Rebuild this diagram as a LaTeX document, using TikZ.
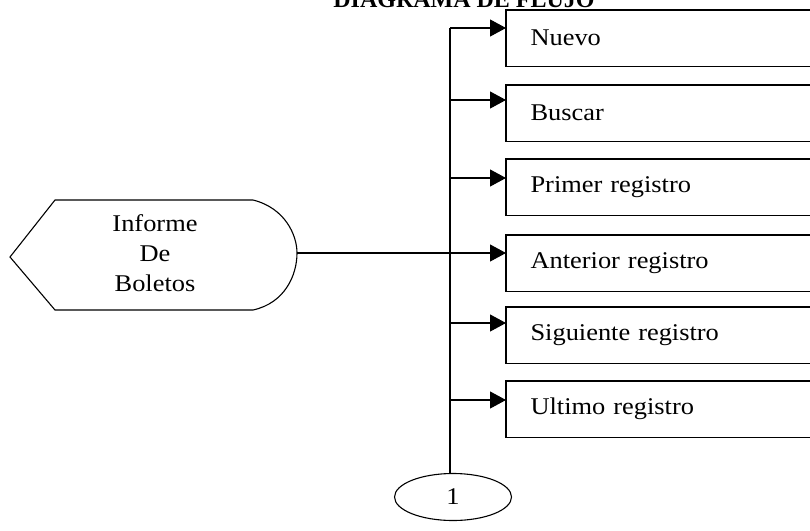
\documentclass[tikz,border=0pt]{standalone}
\usepackage{fontspec}
\setmainfont{Liberation Serif}
\newfontfamily\widefont{Liberation Serif}[FakeStretch=1.1]
\usetikzlibrary{arrows.meta,shapes.geometric}
\begin{document}
\begin{tikzpicture}[x=1pt,y=-1pt,
  line width=1.1pt,
  boxnode/.style={anchor=north west,minimum width=320pt,minimum height=55pt,
    text width=280pt,align=left,inner xsep=24pt,inner ysep=0pt,
    font=\widefont\fontsize{24}{30}\selectfont},
  arr/.style={-{Triangle[length=16pt,width=17pt]},line width=1.1pt},
  trunk/.style={line width=2pt},
  lbl/.style={font=\widefont\fontsize{24}{30}\selectfont}]
\clip (0,0) rectangle (810,530);
\fill[white] (0,0) rectangle (810,530);
% title
\node[anchor=base,inner sep=0pt,font=\bfseries\fontsize{24}{28}\selectfont] (title) at (464,7) {DIAGRAMA DE FLUJO};
% boxes
\foreach \n/\t/\txt in {bN/10/Nuevo,bB/85/Buscar,bP/159/Primer registro,bA/235/Anterior registro,bS/307/Siguiente registro,bU/381/Ultimo registro}{
  \node[boxnode] (\n) at (506,\t) {\txt};
  \draw (\n.north east) -- (\n.north west) -- (\n.south west) -- (\n.south east);
}
% trunk coordinates and arrow ends
\foreach \n/\y in {N/28,B/100,P/178,A/253,S/323,U/400}{
  \coordinate (t\n) at (450,\y);
  \coordinate (e\n) at (506,\y);
  \draw[arr] (t\n) -- (e\n);
}
% connector ellipse
\node[ellipse,draw,minimum width=117pt,minimum height=47pt,inner sep=0pt,lbl] (conn) at (453,497) {1};
\coordinate (ttop) at (450,28);
\coordinate (tbot) at (450,474);
\draw[trunk] (ttop) -- (tbot);
% display shape
\draw (10,257) -- (55,200) -- (253,200)
  .. controls (285,208) and (297,235) .. (297,253)
  .. controls (297,275) and (285,303) .. (253,310)
  -- (55,310) -- cycle;
\node[lbl,align=center,inner sep=0pt] (disp) at (155,253) {Informe\\De\\Boletos};
\coordinate (dispR) at (297,253);
\draw (dispR) -- (tA);
\end{tikzpicture}
\end{document}
